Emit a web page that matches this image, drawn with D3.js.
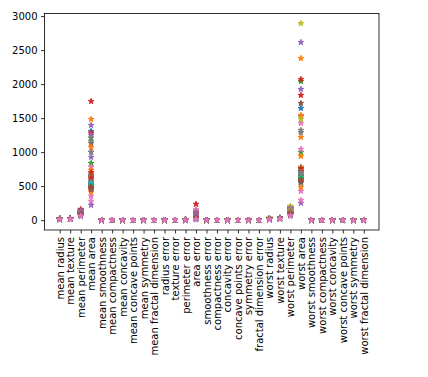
<!DOCTYPE html>
<html>
<head>
<meta charset="utf-8">
<script src="https://cdn.jsdelivr.net/npm/d3@7"></script>
<style>
  body { margin: 0; background: #fff; }
  svg text { font-family: "DejaVu Sans", sans-serif; font-size: 10px; fill: #000; }
</style>
</head>
<body>
<svg id="chart" width="428" height="377"></svg>
<script>
// feature names (x categories)
const features = [
  "mean radius", "mean texture", "mean perimeter", "mean area", "mean smoothness",
  "mean compactness", "mean concavity", "mean concave points", "mean symmetry",
  "mean fractal dimension", "radius error", "texture error", "perimeter error",
  "area error", "smoothness error", "compactness error", "concavity error",
  "concave points error", "symmetry error", "fractal dimension error",
  "worst radius", "worst texture", "worst perimeter", "worst area",
  "worst smoothness", "worst compactness", "worst concavity",
  "worst concave points", "worst symmetry", "worst fractal dimension"
]

// one value per sample (47 samples)
const meanRadius = [20.4, 21.7, 19.6, 23.6, 21.1, 19.0, 17.8, 19.2, 19.9, 12.5,
  14.3, 18.5, 16.3, 20.2, 19.9, 14.5, 15.8, 17.8, 14.7, 12.9,
  13.2, 15.3, 13.8, 14.9, 17.2, 13.7, 13.7, 14.2, 13.9, 13.3,
  12.8, 11.8, 13.3, 14.0, 12.9, 13.0, 10.6, 13.3, 12.2, 13.1,
  12.2, 11.5, 12.6, 12.4, 8.4, 12.0, 9.4]
const meanTexture = [21.3, 18.2, 20.8, 25.1, 19.7, 22.4, 17.9, 24.6, 21.0, 16.8,
  19.3, 23.5, 18.6, 20.2, 26.4, 15.7, 19.9, 22.1, 17.3, 14.9,
  18.8, 21.7, 16.2, 20.6, 23.9, 17.6, 19.1, 22.8, 15.4, 18.3,
  20.9, 16.5, 19.6, 24.2, 17.1, 21.4, 13.9, 18.9, 20.3, 16.9,
  22.6, 15.8, 19.4, 17.7, 12.4, 21.9, 14.6]
const meanPerimeter = [135, 143, 129, 160, 139, 125, 117, 127, 131, 82,
  94, 122, 108, 133, 131, 96, 104, 117, 97, 85,
  87, 101, 91, 98, 114, 90, 90, 94, 92, 88,
  84, 78, 88, 92, 85, 86, 70, 88, 81, 86,
  81, 76, 83, 82, 55, 79, 62]
const meanArea = [1307, 1483, 1209, 1747, 1395, 1131, 999, 1160, 1248, 489,
  640, 1072, 837, 1282, 1250, 660, 783, 1000, 680, 520,
  543, 734, 600, 700, 925, 590, 587, 636, 610, 560,
  514, 440, 560, 620, 520, 530, 352, 560, 470, 540,
  470, 416, 500, 480, 220, 450, 279]
const areaError = [110, 150, 95, 235, 130, 85, 153, 90, 120, 25,
  40, 75, 55, 100, 115, 35, 60, 70, 45, 22,
  30, 50, 33, 45, 65, 28, 30, 38, 32, 26,
  24, 20, 28, 36, 25, 27, 15, 29, 21, 26,
  22, 18, 23, 21, 9, 20, 12]
const worstRadius = [22.9, 27.5, 25.5, 25.7, 28.8, 23.4, 21.3, 22.0, 30.3, 13.2,
  15.1, 22.2, 17.8, 24.2, 24.7, 14.9, 18.2, 20.5, 21.7, 13.8,
  14.9, 19.7, 15.4, 15.6, 15.8, 15.1, 14.7, 20.2, 15.7, 14.5,
  13.8, 17.3, 14.8, 15.6, 14.3, 14.4, 11.7, 14.9, 14.0, 14.2,
  13.3, 12.4, 13.9, 13.6, 8.9, 13.3, 9.7]
const worstTexture = [28.4, 24.5, 27.3, 33.6, 26.1, 29.8, 23.6, 32.4, 28.1, 22.5,
  25.8, 31.2, 24.9, 26.7, 35.0, 20.8, 26.4, 29.3, 23.0, 19.7,
  25.1, 28.9, 21.6, 27.4, 31.7, 23.5, 25.3, 30.2, 20.6, 24.4,
  27.8, 22.0, 26.1, 32.3, 22.7, 28.5, 18.6, 25.2, 27.0, 22.5,
  30.1, 21.0, 25.8, 23.6, 16.5, 29.1, 19.4]
const worstPerimeter = [156, 187, 173, 175, 196, 159, 145, 150, 206, 90,
  103, 151, 121, 165, 168, 101, 124, 139, 148, 94,
  101, 134, 105, 106, 108, 103, 100, 137, 107, 99,
  94, 118, 101, 106, 97, 98, 80, 101, 95, 97,
  90, 84, 95, 92, 61, 90, 66]
const worstArea = [1645, 2379, 2041, 2070, 2614, 1718, 1424, 1523, 2893, 543,
  720, 1542, 999, 1836, 1924, 700, 1043, 1322, 1483, 600,
  700, 1219, 749, 760, 780, 720, 675, 1288, 778, 660,
  602, 940, 690, 760, 640, 650, 426, 700, 620, 630,
  560, 485, 610, 580, 250, 560, 294]

// the remaining features all sit at ~0 on this scale: one typical value each
const smallFeatures = [
  "mean smoothness", "mean compactness", "mean concavity", "mean concave points",
  "mean symmetry", "mean fractal dimension", "radius error", "texture error",
  "perimeter error", "smoothness error", "compactness error", "concavity error",
  "concave points error", "symmetry error", "fractal dimension error",
  "worst smoothness", "worst compactness", "worst concavity",
  "worst concave points", "worst symmetry", "worst fractal dimension"
]
const smallValues = [0.096, 0.104, 0.089, 0.049, 0.181, 0.063, 0.405, 1.22,
  2.87, 0.007, 0.025, 0.032, 0.012, 0.021, 0.0038, 0.132, 0.254, 0.272,
  0.115, 0.290, 0.084]

const yTicks = [0, 500, 1000, 1500, 2000, 2500, 3000]

const columns = {
  "mean radius": meanRadius, "mean texture": meanTexture,
  "mean perimeter": meanPerimeter, "mean area": meanArea,
  "area error": areaError, "worst radius": worstRadius,
  "worst texture": worstTexture, "worst perimeter": worstPerimeter,
  "worst area": worstArea
}

const nSamples = meanArea.length
let samples = d3.range(nSamples).map(i => features.map((f, j) => {
  let v = columns[f] ? columns[f][i] : smallValues[smallFeatures.indexOf(f)]
  return { j: j, v: v }
}))

let svg = d3.select("#chart")
let m = { left: 44.5, right: 379, top: 13.5, bottom: 230 }

let allVals = samples.flat().map(d => d.v)
let lo = d3.min(allVals), hi = d3.max(allVals)
let pad = (hi - lo) * 0.05
let y = d3.scaleLinear().domain([lo - pad, hi + pad]).range([m.bottom, m.top])
let n = features.length
let x = d3.scaleLinear().domain([-0.05 * (n - 1), (n - 1) * 1.05]).range([m.left, m.right])

let color = d3.scaleOrdinal().domain(d3.range(10)).range(d3.schemeCategory10)

// stars, one sample after the other
let star = d3.symbol().type(d3.symbolStar).size(9 / 0.8908130915292852)

svg.append("g")
  .selectAll("g")
  .data(samples)
  .join("g")
  .attr("fill", (d, i) => color(i % 10))
  .attr("stroke", (d, i) => color(i % 10))
  .attr("stroke-width", 1)
  .selectAll("path")
  .data(d => d)
  .join("path")
  .attr("d", star)
  .attr("transform", d => `translate(${x(d.j)},${y(d.v)})`)

// axes
let yAxis = svg.append("g")
  .attr("transform", `translate(${m.left},0)`)
  .call(d3.axisLeft(y).tickValues(yTicks).tickFormat(d3.format("d")).tickSize(3.5).tickPadding(3.5))
let xAxis = svg.append("g")
  .attr("transform", `translate(0,${m.bottom})`)
  .call(d3.axisBottom(x).tickValues(d3.range(n)).tickFormat(j => features[j]).tickSize(3.5).tickPadding(3.5))

xAxis.selectAll("text")
  .attr("transform", "rotate(-90)")
  .attr("x", -7)
  .attr("y", 0)
  .attr("dy", "0.35em")
  .style("text-anchor", "end")

svg.selectAll(".domain").remove()
svg.selectAll(".tick line").attr("stroke", "#000").attr("stroke-width", 0.8)
svg.selectAll(".tick text").attr("fill", "#000").style("font-size", "10px").style("font-family", "DejaVu Sans")

svg.append("rect")
  .attr("x", m.left).attr("y", m.top)
  .attr("width", m.right - m.left).attr("height", m.bottom - m.top)
  .attr("fill", "none").attr("stroke", "#000").attr("stroke-width", 0.8)
</script>
</body>
</html>
